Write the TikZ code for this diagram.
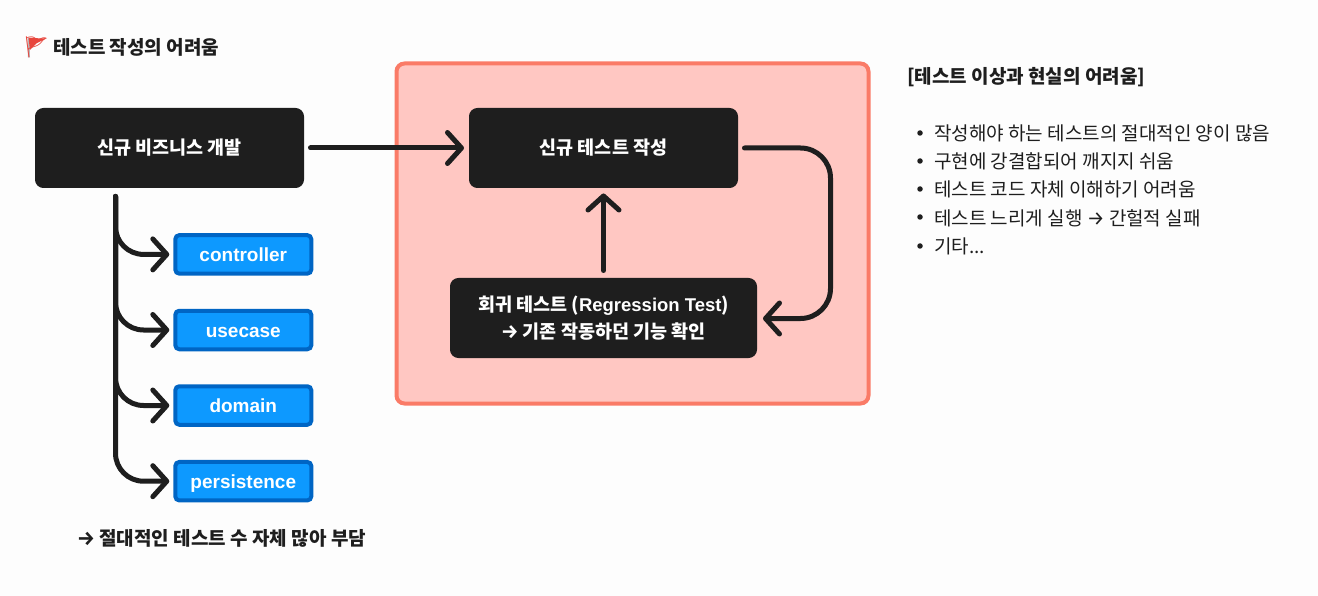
\documentclass[tikz,border=0pt]{standalone}
\usepackage{fontspec}
\usetikzlibrary{arrows.meta}
\setmainfont{Noto Sans CJK KR}
\newfontfamily\lat{Liberation Sans}[Ligatures=TeX]
\newfontfamily\arrf{Fira Sans}[Scale=1.05]
\newfontfamily\emojifont{Noto Emoji}
\definecolor{bgc}{HTML}{FDFDFD}
\definecolor{ink}{HTML}{1E1E1E}
\definecolor{redfill}{HTML}{FFC7C2}
\definecolor{redline}{HTML}{FA7B67}
\definecolor{bluefill}{HTML}{0D99FF}
\definecolor{blueline}{HTML}{0065C4}
\definecolor{flagred}{HTML}{E8453C}
\definecolor{flagpole}{HTML}{B9BBBE}
\newcommand{\arr}{{\arrf →}}
\newcommand{\barr}{{\arrf\bfseries →}}
\newcommand{\dn}[1]{\raisebox{-1pt}{#1}}
\tikzset{
  x=1pt,y=-1pt,
  darkbox/.style={draw=ink,fill=ink,line width=1pt,rounded corners=8pt,minimum height=79pt,inner sep=0pt,outer sep=0pt,
    text=white,font=\fontsize{18.5}{27}\selectfont\bfseries,align=center},
  bluebox/.style={draw=blueline,fill=bluefill,line width=4pt,rounded corners=4pt,minimum width=136pt,minimum height=38.5pt,inner sep=0pt,outer sep=0pt,
    text=white,font=\lat\fontsize{19}{22}\selectfont\bfseries,text height=18pt,text depth=3.4pt},
  conn/.style={draw=ink,line width=5pt,line cap=round,line join=round,-{Straight Barb[round,length=14pt,width=31pt,line width=5pt]}},
  head/.style={anchor=west,inner sep=0pt,text=ink,font=\fontsize{19}{22}\selectfont\bfseries,text height=14pt,text depth=4pt},
  item/.style={anchor=west,inner sep=0pt,text=ink,font=\fontsize{19}{22}\selectfont,text height=14pt,text depth=4pt},
  dot/.style={circle,fill=ink,inner sep=0pt,minimum size=5.5pt},
}
\begin{document}
\begin{tikzpicture}
\useasboundingbox[fill=bgc] (0,0) rectangle (1318,596);
\node[draw=redline,fill=redfill,line width=4pt,rounded corners=8pt,minimum width=472pt,minimum height=340pt,inner sep=0pt,outer sep=0pt] (zone) at (632.5,233.5) {};
\fill[flagpole] (27.5,38) -- (29.8,38) -- (30,57.5) -- (28,57.5) -- cycle;
\fill[flagred] (28.5,38) -- (46.5,38.5) -- (37,43) -- (30,50) -- cycle;
\node[anchor=center,inner sep=0pt,text=flagred,font=\emojifont\fontsize{21}{24}\selectfont] (flag) at (36.5,47.5) {🚩};
\node[head] (title) at (53,49.5) {테스트 작성의 어려움};
\node[darkbox,minimum width=268pt] (biz) at (169.5,148) {\dn{신규 비즈니스 개발}};
\node[darkbox,minimum width=268pt] (newtest) at (603.5,148) {\dn{신규 테스트 작성}};
\node[darkbox,minimum width=306pt] (reg) at (603.5,318) {\dn{회귀 테스트 ({\lat\bfseries Regression Test})}\\\dn{\barr{} 기존 작동하던 기능 확인}};
\node[bluebox] (ctl) at (243.3,254.4) {controller};
\node[bluebox] (use) at (243.3,330) {usecase};
\node[bluebox] (dom) at (243.3,405.5) {domain};
\node[bluebox] (per) at (243.3,481.2) {persistence};
\coordinate (trunk) at ([xshift=-54pt,yshift=-9pt]biz.south);
\foreach \t in {ctl,use,dom,per}{
  \draw[conn,rounded corners=28pt,shorten >=6pt] (trunk) |- (\t.west);
}
\draw[conn,shorten <=7pt,shorten >=5.5pt] (biz.east) -- (newtest.west);
\draw[conn,rounded corners=30pt,shorten <=7pt,shorten >=6.5pt] (newtest.east) -| (830.5,318.5) -- (reg.east |- 0,318.5);
\draw[conn,shorten <=8pt,shorten >=6pt] (reg.north) -- (newtest.south);
\node[head] (note) at (77,540.5) {\barr{} 절대적인 테스트 수 자체 많아 부담};
\node[head] (rhead) at (907,78.5) {[테스트 이상과 현실의 어려움]};
\node[dot] (d1) at (920,133) {};
\node[dot] (d2) at (920,161) {};
\node[dot] (d3) at (920,189) {};
\node[dot] (d4) at (920,217) {};
\node[dot] (d5) at (920,246) {};
\node[item] (i1) at (934,136) {작성해야 하는 테스트의 절대적인 양이 많음};
\node[item] (i2) at (934,164) {구현에 강결합되어 깨지지 쉬움};
\node[item] (i3) at (934,192) {테스트 코드 자체 이해하기 어려움};
\node[item] (i4) at (934,220.5) {테스트 느리게 실행 \arr{} 간헐적 실패};
\node[item] (i5) at (934,249) {기타...};
\end{tikzpicture}
\end{document}
